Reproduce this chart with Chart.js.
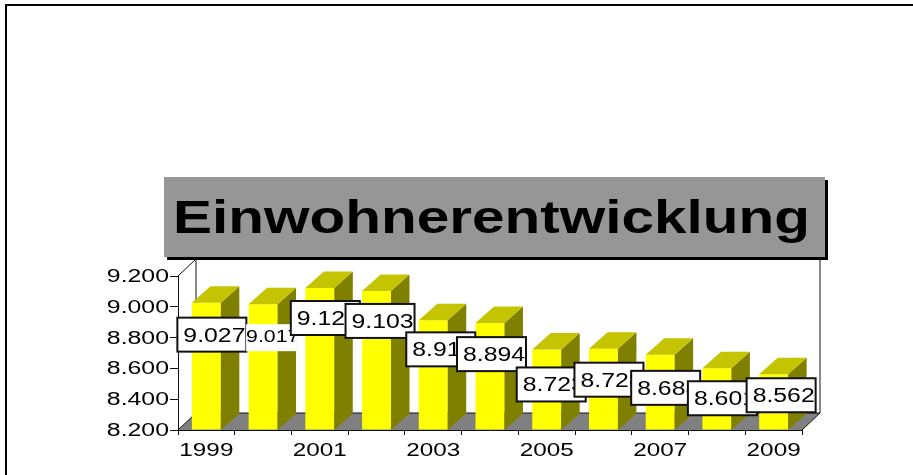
<!DOCTYPE html>
<html>
<head>
<meta charset="utf-8">
<title>Einwohnerentwicklung</title>
<style>
  html, body { margin: 0; padding: 0; background: #fff; overflow: hidden; }
  canvas { display: block; }
</style>
<script src="https://cdn.jsdelivr.net/npm/chart.js@4/dist/chart.umd.min.js"></script>
</head>
<body>
<canvas id="chart" width="913" height="475"></canvas>
<script>
const titleText = 'Einwohnerentwicklung';
const years = ['1999', '2000', '2001', '2002', '2003', '2004', '2005', '2006', '2007', '2008', '2009'];
const population = [9027, 9017, 9122, 9103, 8912, 8894, 8723, 8728, 8688, 8601, 8562];
const axisMin = 8200;
const axisMax = 9200;
const axisStep = 200;

// Hand placed value boxes, relative to the top of their bar
const labelNudge = [[-29, 15], [-17, 20], [-29, 13], [-31, 13], [-27, 12], [-33, 14], [-30, 18], [-29, 14], [-29, 16], [-29, 13], [-27, 4]];

// 3D look
const depthX = 18;
const depthY = 17;
const barDepthX = 18.5;
const barDepthY = 16.5;
const fontName = '"Liberation Sans"';

function formatNumber(value) {
  return new Intl.NumberFormat('de-DE').format(value);
}

// The original text is wider than the font, so stretch it horizontally
function stretchedText(ctx, text, x, y, font, stretch, align) {
  ctx.save();
  ctx.font = font;
  ctx.fillStyle = '#000';
  ctx.textAlign = align || 'left';
  ctx.textBaseline = 'alphabetic';
  ctx.translate(x, y);
  ctx.scale(stretch, 1);
  ctx.fillText(text, 0, 0);
  ctx.restore();
}

function fillPoly(ctx, points, color) {
  ctx.beginPath();
  points.forEach((p, i) => i ? ctx.lineTo(p[0], p[1]) : ctx.moveTo(p[0], p[1]));
  ctx.closePath();
  ctx.fillStyle = color;
  ctx.fill();
}

function strokeLine(ctx, x1, y1, x2, y2) {
  ctx.beginPath();
  ctx.moveTo(x1, y1);
  ctx.lineTo(x2, y2);
  ctx.stroke();
}

const floorAndWalls = {
  id: 'floorAndWalls',
  beforeDatasetsDraw(chart) {
    const { ctx, chartArea: a } = chart;
    ctx.save();
    fillPoly(ctx, [[a.left, a.bottom], [a.right, a.bottom], [a.right + depthX, a.bottom - depthY], [a.left + depthX, a.bottom - depthY]], '#808080');
    ctx.strokeStyle = '#111';
    ctx.lineWidth = 1;
    strokeLine(ctx, a.left, a.top, a.left + depthX, a.top - depthY);
    strokeLine(ctx, a.left, a.bottom, a.left + depthX, a.bottom - depthY);
    strokeLine(ctx, a.right, a.bottom, a.right + depthX, a.bottom - depthY);
    strokeLine(ctx, a.left + depthX, a.top - depthY, a.left + depthX, a.bottom - depthY);
    strokeLine(ctx, a.right + depthX, a.top - depthY, a.right + depthX, a.bottom - depthY);
    strokeLine(ctx, a.left + depthX, a.bottom - depthY, a.right + depthX, a.bottom - depthY);
    ctx.restore();
  }
};

const barSides = {
  id: 'barSides',
  afterDatasetsDraw(chart) {
    const { ctx } = chart;
    const base = chart.scales.y.getPixelForValue(axisMin);
    ctx.save();
    chart.getDatasetMeta(0).data.forEach(bar => {
      const right = bar.x + bar.width / 2;
      const left = bar.x - bar.width / 2;
      fillPoly(ctx, [[right, bar.y], [right + barDepthX, bar.y - barDepthY], [right + barDepthX, base - barDepthY], [right, base]], '#808000');
      fillPoly(ctx, [[left, bar.y], [left + barDepthX, bar.y - barDepthY], [right + barDepthX, bar.y - barDepthY], [right, bar.y]], '#c4c400');
    });
    ctx.restore();
  }
};

const axisLabels = {
  id: 'axisLabels',
  afterDraw(chart) {
    const { ctx } = chart;
    const font = '18px ' + fontName;
    chart.scales.y.ticks.forEach((tick, i) => {
      stretchedText(ctx, tick.label, 169, chart.scales.y.getPixelForTick(i) + 6, font, 1.38, 'right');
    });
    chart.scales.x.ticks.forEach((tick, i) => {
      if (tick.label) stretchedText(ctx, tick.label, chart.scales.x.getPixelForTick(i), 456, font, 1.35, 'center');
    });
  }
};

const valueBoxes = {
  id: 'valueBoxes',
  afterDraw(chart) {
    const { ctx } = chart;
    chart.getDatasetMeta(0).data.forEach((bar, i) => {
      const x = bar.x + labelNudge[i][0];
      const y = bar.y + labelNudge[i][1];
      // 2000 has a smaller box without a frame
      const plain = i === 1;
      const w = plain ? 50 : 69;
      const h = plain ? 27 : 34;
      ctx.save();
      ctx.fillStyle = '#fff';
      ctx.fillRect(x, y, w, h);
      if (!plain) {
        ctx.strokeStyle = '#111';
        ctx.lineWidth = 2;
        ctx.strokeRect(x, y, w, h);
      }
      ctx.beginPath();
      ctx.rect(x, y, w, h);
      ctx.clip();
      if (plain) {
        stretchedText(ctx, formatNumber(population[i]), x, y + 18, '16px ' + fontName, 1.33);
      } else {
        stretchedText(ctx, formatNumber(population[i]), x + 6, y + 24, '20px ' + fontName, 1.24);
      }
      ctx.restore();
    });
  }
};

const titleBox = {
  id: 'titleBox',
  afterDraw(chart) {
    const { ctx } = chart;
    ctx.save();
    ctx.fillStyle = '#000';
    ctx.fillRect(167, 180, 661, 80);
    ctx.fillStyle = '#969696';
    ctx.fillRect(164, 177, 661, 80);
    // outer frame, only top and left are inside the picture
    ctx.fillStyle = '#000';
    ctx.fillRect(5, 4, 908, 2);
    ctx.fillRect(5, 4, 2, 471);
    const font = 'bold 47px ' + fontName;
    ctx.font = font;
    const stretch = 637 / ctx.measureText(titleText).width;
    ctx.restore();
    stretchedText(ctx, titleText, 173, 233, font, stretch);
  }
};

new Chart(document.getElementById('chart'), {
  type: 'bar',
  data: {
    labels: years,
    datasets: [{
      data: population,
      base: axisMin,
      backgroundColor: '#ffff00',
      borderWidth: 0,
      categoryPercentage: 1,
      barPercentage: 0.51
    }]
  },
  plugins: [floorAndWalls, barSides, axisLabels, valueBoxes, titleBox],
  options: {
    responsive: false,
    animation: false,
    layout: { padding: { top: 276, right: 111, left: 0, bottom: 0 } },
    plugins: { legend: { display: false }, tooltip: { enabled: false } },
    scales: {
      x: {
        afterFit: scale => { scale.height = 45; },
        border: { color: '#111', width: 1 },
        grid: { drawOnChartArea: false, tickLength: 5, tickColor: '#111' },
        ticks: {
          display: false,
          autoSkip: false,
          callback: function(value, index) {
            return index % 2 === 0 ? this.getLabelForValue(value) : '';
          }
        }
      },
      y: {
        min: axisMin,
        max: axisMax,
        afterFit: scale => { scale.width = 178; },
        border: { color: '#111', width: 1 },
        grid: { drawOnChartArea: false, tickLength: 8, tickColor: '#111' },
        ticks: {
          display: false,
          stepSize: axisStep,
          callback: value => formatNumber(value)
        }
      }
    }
  }
});
</script>
</body>
</html>
